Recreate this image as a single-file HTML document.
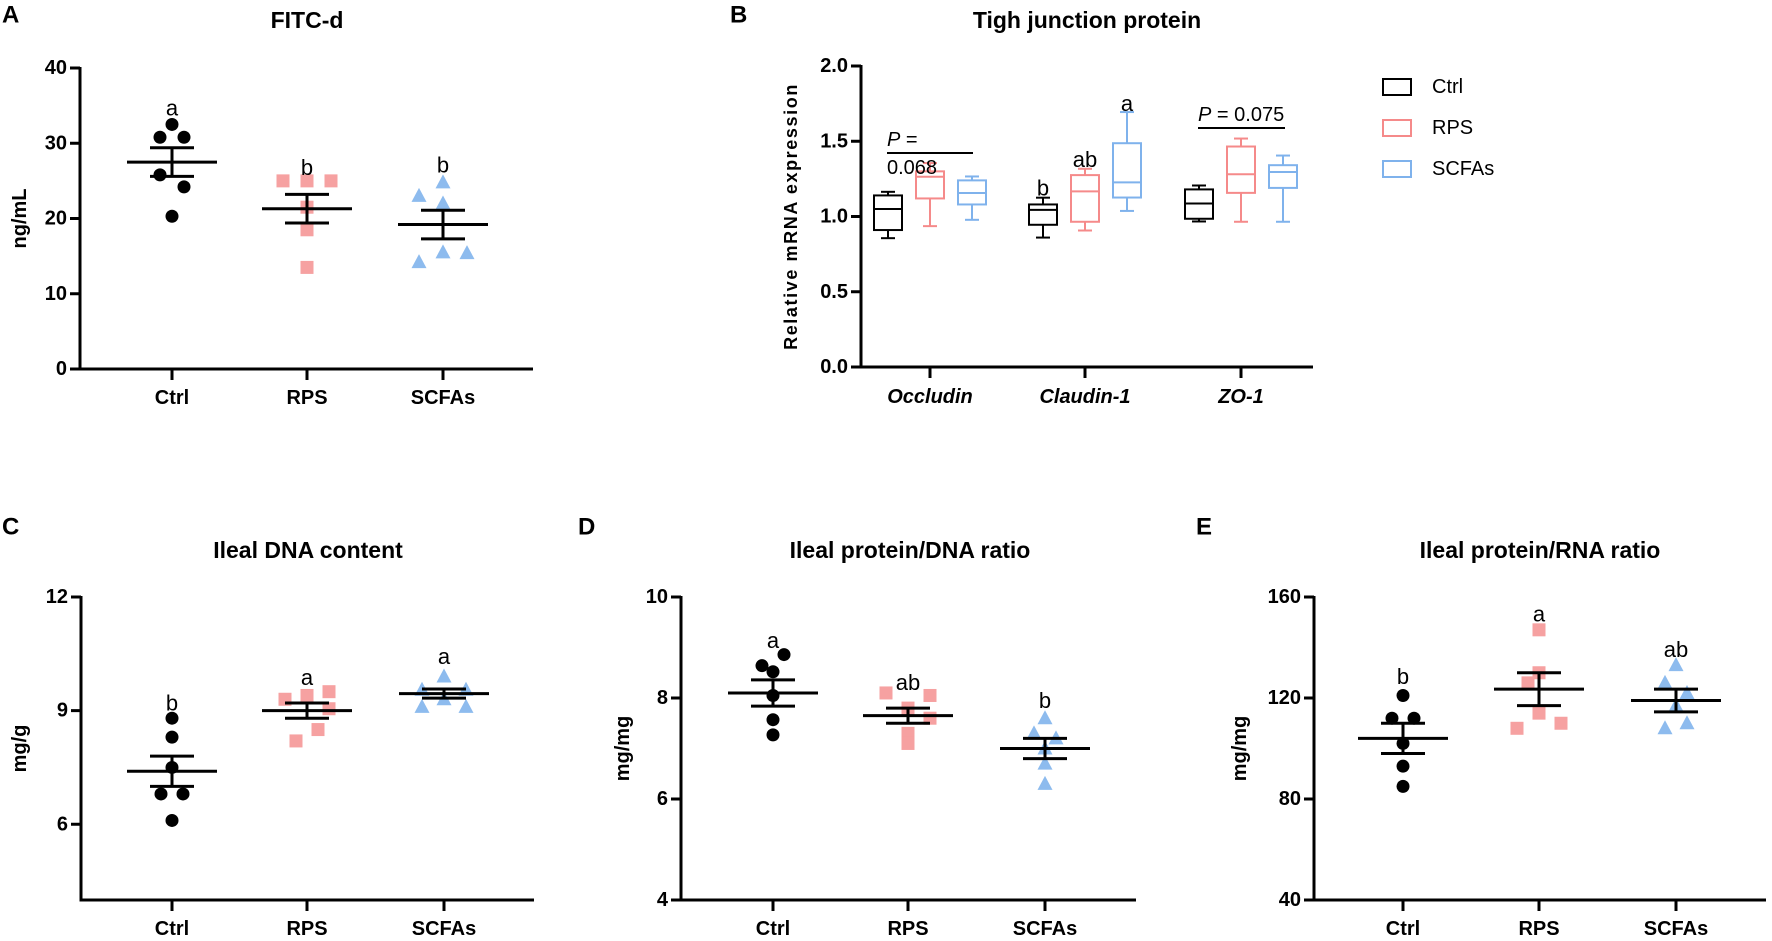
<!DOCTYPE html>
<html><head><meta charset="utf-8"><style>
html,body{margin:0;padding:0;background:#fff;}
svg{display:block;font-family:"Liberation Sans",Arial,sans-serif;}
</style></head><body>
<svg id="fig" width="1772" height="941" viewBox="0 0 1772 941" xmlns="http://www.w3.org/2000/svg"></svg>
<script>
// ---------- data ----------
const groups = ["Ctrl","RPS","SCFAs"];
// Panel A FITC-d
const aCtrl = [32.5,30.8,30.8,25.8,24.2,20.3];
const aRPS = [25,25,25,21.5,18.5,13.5];
const aSCFA = [24.8,23,22,15.5,15.4,14.2];
const aMean = [27.5,21.3,19.2];
const aSem = [1.9,1.9,1.9];
const aLetters = ["a","b","b"];
const aLetterY = [34.7,26.8,27.1];
const aTicks = [0,10,20,30,40];
// Panel C DNA content
const cCtrl = [8.8,8.3,7.5,6.8,6.8,6.1];
const cRPS = [9.5,9.4,9.3,9.05,8.5,8.2];
const cSCFA = [9.9,9.55,9.55,9.1,9.1,9.3];
const cMean = [7.4,9.0,9.45];
const cSem = [0.4,0.2,0.12];
const cLetters = ["b","a","a"];
const cLetterY = [9.2,9.87,10.43];
const cTicks = [6,9,12];
// Panel D protein/DNA
const dCtrl = [8.86,8.64,8.52,8.05,7.57,7.27];
const dRPS = [8.1,8.05,7.8,7.6,7.3,7.1];
const dSCFA = [7.6,7.3,7.2,7.0,6.7,6.3];
const dMean = [8.1,7.65,7.0];
const dSem = [0.26,0.15,0.2];
const dLetters = ["a","ab","b"];
const dLetterY = [9.14,8.31,7.95];
const dTicks = [4,6,8,10];
// Panel E protein/RNA
const eCtrl = [121,112,112,102,93,85];
const eRPS = [147,130,126,114,110,108];
const eSCFA = [133,126,122,117,110,108];
const eMean = [104,123.5,119];
const eSem = [6,6.5,4.5];
const eLetters = ["b","a","ab"];
const eLetterY = [128.6,153.3,139.3];
const eTicks = [40,80,120,160];
// jitter slot per point (multiples of 11-12 px)
const slotA = [[0,-1,1,-1,1,0],[-2,0,2,0,0,0],[0,-2,0,0,2,-2]];
const slotC = [[0,0,0,-1,1,0],[2,0,-2,2,1,-1],[0,-2,2,-2,2,0]];
const slotD = [[1,-1,0,0,0,0],[-2,2,0,2,0,0],[0,-1,1,0,0,0]];
const slotE = [[0,-1,1,0,0,0],[0,0,-1,0,2,-2],[0,-1,1,0,1,-1]];
// Panel B box plots: [whiskerLow, q1, median, q3, whiskerHigh]
const genes = ["Occludin","Claudin-1","ZO-1"];
const bCtrl = [[0.856,0.91,1.05,1.14,1.164],[0.86,0.945,1.044,1.08,1.125],[0.967,0.985,1.086,1.18,1.206]];
const bRPS = [[0.936,1.12,1.264,1.30,1.355],[0.907,0.965,1.167,1.275,1.317],[0.965,1.157,1.281,1.465,1.518]];
const bSCFA = [[0.978,1.08,1.156,1.24,1.266],[1.037,1.126,1.227,1.487,1.694],[0.965,1.19,1.296,1.341,1.405]];
const bTicks = [0,0.5,1.0,1.5,2.0];
const bLetters = [["","",""],["b","ab","a"],["","",""]];
const bLetterY = [[0,0,0],[1.19,1.38,1.75],[0,0,0]];

// ---------- helpers ----------
const NS="http://www.w3.org/2000/svg";
const svg=document.getElementById("fig");
const COLORS=["#000000","#f6a1a1","#8dbbee"];
const BOXC=["#000000","#f58a8a","#7fb2ec"];
function mk(tag,attrs,parent){const e=document.createElementNS(NS,tag);for(const k in attrs)e.setAttribute(k,attrs[k]);(parent||svg).appendChild(e);return e;}
function txt(s,x,y,attrs,parent){const t=mk("text",Object.assign({x:x,y:y},attrs),parent);t.textContent=s;return t;}

function axes(o,g,ys){
  const ya=mk("line",{x1:o.ax,y1:o.y1-1,x2:o.ax,y2:o.y0+1.5,stroke:"#000","stroke-width":3},g);
  
  
  const xa=mk("line",{x1:o.ax-1.5,y1:o.y0,x2:o.xend,y2:o.y0,stroke:"#000","stroke-width":3},g);
  
  
  o.ticks.forEach(t=>{
    mk("line",{x1:o.ax-10,y1:ys(t),x2:o.ax,y2:ys(t),stroke:"#000","stroke-width":3},g);
    const lab=o.fmt?o.fmt(t):String(t);
    const tl=txt(lab,o.ax-13,ys(t),{"text-anchor":"end","dominant-baseline":"central","font-size":20,"font-weight":"bold"},g);
    
    
  });
  const yt=txt(o.ylabel,0,0,{"text-anchor":"middle","dominant-baseline":"central","font-size":o.ylfs||20,"font-weight":"bold","letter-spacing":o.yls||0,transform:`translate(${o.ylx},${o.ylc||(o.y0+o.y1)/2}) rotate(-90)`},g);
  
  
  const ti=txt(o.title,o.tx,o.ty,{"text-anchor":"middle","dominant-baseline":"central","font-size":23,"font-weight":"bold"},g);
  
  
  const pl=txt(o.panel,o.px,o.py,{"dominant-baseline":"central","font-size":24,"font-weight":"bold"},g);
  
  
}

function dotPanel(o){
  const g=mk("g",{});
  
  
  const ys=v=>o.y0-(v-o.min)/(o.max-o.min)*(o.y0-o.y1);
  axes(o,g,ys);
  groups.forEach((gname,i)=>{
    const cx=o.cx[i];
    mk("line",{x1:cx,y1:o.y0,x2:cx,y2:o.y0+11,stroke:"#000","stroke-width":3},g);
    const xl=txt(gname,cx,o.y0+29,{"text-anchor":"middle","dominant-baseline":"central","font-size":20,"font-weight":"bold"},g);
    
    
    o.data[i].forEach((v,j)=>{
      const px=cx+o.slots[i][j]*o.jit, py=ys(v);
      let m;
      if(i===0) m=mk("circle",{cx:px,cy:py,r:6.5,fill:COLORS[0]},g);
      else if(i===1) m=mk("rect",{x:px-6.5,y:py-6.5,width:13,height:13,fill:COLORS[1]},g);
      else m=mk("polygon",{points:`${px},${py-8} ${px-7.5},${py+6} ${px+7.5},${py+6}`,fill:COLORS[2]},g);
      
      
    });
    const my=ys(o.mean[i]), hi=ys(o.mean[i]+o.sem[i]), lo=ys(o.mean[i]-o.sem[i]);
    const ml=mk("line",{x1:cx-45,y1:my,x2:cx+45,y2:my,stroke:"#000","stroke-width":3},g);
    
    
    mk("line",{x1:cx,y1:hi,x2:cx,y2:lo,stroke:"#000","stroke-width":3},g);
    mk("line",{x1:cx-22,y1:hi,x2:cx+22,y2:hi,stroke:"#000","stroke-width":3},g);
    mk("line",{x1:cx-22,y1:lo,x2:cx+22,y2:lo,stroke:"#000","stroke-width":3},g);
    const lt=txt(o.letters[i],cx,ys(o.letterY[i]),{"text-anchor":"middle","dominant-baseline":"central","font-size":22},g);
    
    
  });
}

dotPanel({name:"panel-a-fitc-d",ax:80,xend:533,y0:369,y1:68,min:0,max:40,ticks:aTicks,cx:[172,307,443],
  data:[aCtrl,aRPS,aSCFA],slots:slotA,jit:12,mean:aMean,sem:aSem,letters:aLetters,letterY:aLetterY,
  ylabel:"ng/mL",ylx:20,title:"FITC-d",tx:307,ty:20,panel:"A",px:2,py:15});
dotPanel({name:"panel-c-dna-content",ax:81,xend:534,y0:900,y1:597,min:4,max:12,ticks:cTicks,cx:[172,307,444],
  data:[cCtrl,cRPS,cSCFA],slots:slotC,jit:11,mean:cMean,sem:cSem,letters:cLetters,letterY:cLetterY,
  ylabel:"mg/g",ylx:20,title:"Ileal DNA content",tx:308,ty:550,panel:"C",px:2,py:527});
dotPanel({name:"panel-d-protein-dna",ax:681,xend:1136,y0:900,y1:597,min:4,max:10,ticks:dTicks,cx:[773,908,1045],
  data:[dCtrl,dRPS,dSCFA],slots:slotD,jit:11,mean:dMean,sem:dSem,letters:dLetters,letterY:dLetterY,
  ylabel:"mg/mg",ylx:623,title:"Ileal protein/DNA ratio",tx:910,ty:550,panel:"D",px:578,py:527});
dotPanel({name:"panel-e-protein-rna",ax:1314,xend:1766,y0:900,y1:597,min:40,max:160,ticks:eTicks,cx:[1403,1539,1676],
  data:[eCtrl,eRPS,eSCFA],slots:slotE,jit:11,mean:eMean,sem:eSem,letters:eLetters,letterY:eLetterY,
  ylabel:"mg/mg",ylx:1240,title:"Ileal protein/RNA ratio",tx:1540,ty:550,panel:"E",px:1196,py:527});

// ---------- Panel B box plot ----------
(function(){
  const o={ax:861,xend:1313,y0:367,y1:66,min:0,max:2,ticks:bTicks,fmt:t=>t.toFixed(1),
    ylabel:"Relative mRNA expression",ylx:791,ylfs:18,yls:1.6,title:"Tigh junction protein",tx:1087,ty:20,panel:"B",px:730,py:15};
  const g=mk("g",{});
  
  
  const ys=v=>o.y0-(v-o.min)/(o.max-o.min)*(o.y0-o.y1);
  axes(o,g,ys);
  const gx=[930,1085,1241], off=42, bw=28;
  const series=[bCtrl,bRPS,bSCFA];
  genes.forEach((gn,i)=>{
    mk("line",{x1:gx[i],y1:o.y0,x2:gx[i],y2:o.y0+11,stroke:"#000","stroke-width":3},g);
    const xl=txt(gn,gx[i],o.y0+30,{"text-anchor":"middle","dominant-baseline":"central","font-size":20,"font-weight":"bold","font-style":"italic"},g);
    
    
    series.forEach((s,k)=>{
      const d=s[i], cx=gx[i]+(k-1)*off, c=BOXC[k];
      const bg=mk("g",{stroke:c,"stroke-width":2,fill:"none"},g);
      
      
      mk("rect",{x:cx-bw/2,y:ys(d[3]),width:bw,height:ys(d[1])-ys(d[3])},bg);
      mk("line",{x1:cx-bw/2,y1:ys(d[2]),x2:cx+bw/2,y2:ys(d[2])},bg);
      mk("line",{x1:cx,y1:ys(d[3]),x2:cx,y2:ys(d[4])},bg);
      mk("line",{x1:cx,y1:ys(d[1]),x2:cx,y2:ys(d[0])},bg);
      mk("line",{x1:cx-7,y1:ys(d[4]),x2:cx+7,y2:ys(d[4])},bg);
      mk("line",{x1:cx-7,y1:ys(d[0]),x2:cx+7,y2:ys(d[0])},bg);
      if(bLetters[i][k]){
        const lt=txt(bLetters[i][k],cx,ys(bLetterY[i][k]),{"text-anchor":"middle","dominant-baseline":"central","font-size":22},g);
        
        
      }
    });
  });
  // P-value annotations
  const p1=mk("line",{x1:887,y1:153,x2:973,y2:153,stroke:"#000","stroke-width":2},g);
  
  
  const t1=mk("text",{x:887,y:146,"font-size":20},g);
  
  
  t1.innerHTML='<tspan font-style="italic">P</tspan> =';
  const t1b=txt("0.068",887,174,{"font-size":20},g);
  
  
  const p2=mk("line",{x1:1198,y1:128,x2:1285,y2:128,stroke:"#000","stroke-width":2},g);
  
  
  const t2=mk("text",{x:1198,y:121,"font-size":20},g);
  
  
  t2.innerHTML='<tspan font-style="italic">P</tspan> = 0.075';
  // legend
  const ly=[87,128,169];
  groups.forEach((gn,k)=>{
    const lg=mk("g",{},g);
    
    
    mk("rect",{x:1383,y:ly[k]-8,width:28,height:16,fill:"none",stroke:BOXC[k],"stroke-width":2},lg);
    txt(gn,1432,ly[k],{"dominant-baseline":"central","font-size":20},lg);
  });
})();
</script>
</body></html>
